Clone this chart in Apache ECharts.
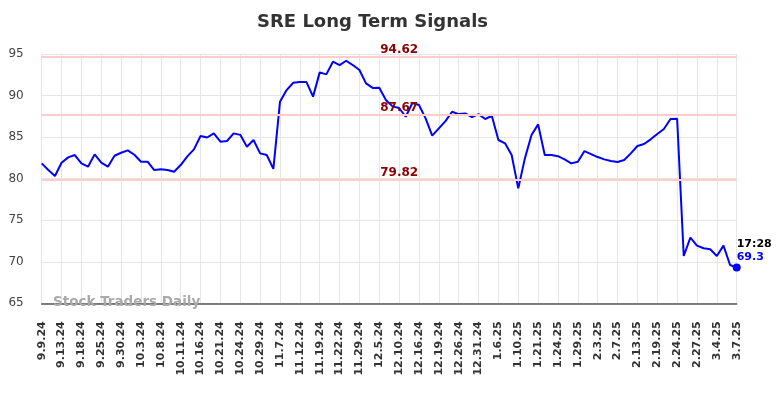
<!DOCTYPE html>
<html>
<head>
<meta charset="utf-8">
<script src="https://cdn.jsdelivr.net/npm/echarts@6/dist/echarts.min.js"></script>
<style>
  html, body { margin: 0; padding: 0; background: #fff; }
  #chart { width: 784px; height: 398px; }
</style>
</head>
<body>
<div id="chart"></div>
<script>
// one tick label every 3 points
var tickLabels = ['9.9.24', '9.13.24', '9.18.24', '9.25.24', '9.30.24', '10.3.24', '10.8.24', '10.11.24',
    '10.16.24', '10.21.24', '10.24.24', '10.29.24', '11.7.24', '11.12.24', '11.19.24', '11.22.24',
    '11.29.24', '12.5.24', '12.10.24', '12.16.24', '12.19.24', '12.26.24', '12.31.24', '1.6.25',
    '1.10.25', '1.21.25', '1.24.25', '1.29.25', '2.3.25', '2.7.25', '2.13.25', '2.19.25',
    '2.24.25', '2.27.25', '3.4.25', '3.7.25'];

var prices = [
    81.84, 81.04, 80.32, 81.92, 82.56, 82.84, 81.84, 81.44, 82.92, 81.92,
    81.44, 82.76, 83.12, 83.40, 82.88, 82.04, 82.04, 81.04, 81.12, 81.04,
    80.84, 81.64, 82.68, 83.52, 85.13, 84.95, 85.45, 84.45, 84.53, 85.45,
    85.27, 83.84, 84.65, 83.04, 82.84, 81.18, 89.26, 90.66, 91.54, 91.62,
    91.62, 89.87, 92.79, 92.55, 94.07, 93.67, 94.19, 93.67, 93.07, 91.46,
    90.92, 90.94, 89.47, 88.70, 88.50, 87.45, 89.10, 88.86, 87.25, 85.17,
    86.05, 86.93, 88.05, 87.77, 87.85, 87.41, 87.77, 87.17, 87.57, 84.65,
    84.25, 82.84, 78.83, 82.44, 85.25, 86.53, 82.84, 82.84, 82.70, 82.32,
    81.84, 82.04, 83.32, 82.96, 82.60, 82.32, 82.12, 82.00, 82.24, 83.04,
    83.93, 84.17, 84.73, 85.37, 85.97, 87.17, 87.21, 70.69, 72.90, 71.94,
    71.62, 71.50, 70.69, 71.94, 69.61, 69.30
];

var signalLevels = [94.62, 87.67, 79.82];
var lastTime = '17:28';

var categories = prices.map(function (v, i) {
    return i % 3 === 0 ? tickLabels[i / 3] : 'p' + i;
});

var seriesData = prices.map(function (v, i) {
    if (i !== prices.length - 1) return v;
    return {
        value: v,
        symbol: 'circle',
        symbolSize: 8,
        label: {
            show: true,
            position: [4, -26],
            align: 'left',
            verticalAlign: 'top',
            formatter: '{t|' + lastTime + '}\n{v|' + v + '}',
            rich: {
                t: { color: '#000', fontWeight: 'bold', fontSize: 11, lineHeight: 13, fontFamily: 'DejaVu Sans' },
                v: { color: '#0000ff', fontWeight: 'bold', fontSize: 11, lineHeight: 13, fontFamily: 'DejaVu Sans' }
            }
        }
    };
});

var myChart = echarts.init(document.getElementById('chart'));
var option = {
    animation: false,
    title: {
        text: 'SRE Long Term Signals',
        left: 252,
        top: 8,
        textStyle: { fontSize: 18, fontWeight: 'bold', color: '#333', fontFamily: 'DejaVu Sans' }
    },
    grid: { left: 41.7, right: 47.3, top: 54, bottom: 94.7 },
    graphic: [{
        type: 'text',
        left: 53,
        top: 295,
        z: 100,
        style: { text: 'Stock Traders Daily', fill: '#aaa', font: 'bold 13.5px "DejaVu Sans"' }
    }],
    xAxis: {
        type: 'category',
        boundaryGap: false,
        data: categories,
        axisLine: { lineStyle: { color: '#555', width: 1.5 } },
        axisTick: { show: false },
        axisLabel: {
            interval: 2,
            rotate: 90,
            margin: 18,
            fontSize: 11,
            fontWeight: 'bold',
            color: '#333',
            fontFamily: 'DejaVu Sans'
        },
        splitLine: { show: true, interval: 2, lineStyle: { color: '#e6e6e6' } }
    },
    yAxis: {
        type: 'value',
        min: 65,
        max: 95,
        interval: 5,
        axisLine: { show: false },
        axisTick: { show: false },
        axisLabel: { fontSize: 12, color: '#444', margin: 18, fontFamily: 'DejaVu Sans' },
        splitLine: { lineStyle: { color: '#e6e6e6' } }
    },
    series: [{
        type: 'line',
        data: seriesData,
        symbol: 'none',
        showSymbol: true,
        itemStyle: { color: '#0000ff' },
        lineStyle: { color: '#0000ff', width: 2 },
        markLine: {
            silent: true,
            symbol: 'none',
            lineStyle: { color: '#ffcccc', width: 2, type: 'solid' },
            label: {
                position: 'insideMiddleTop',
                distance: 1,
                padding: [0, 0, 0, 20],
                color: '#8b0000',
                fontWeight: 'bold',
                fontSize: 12,
                fontFamily: 'DejaVu Sans',
                formatter: function (p) { return p.value.toFixed(2); }
            },
            data: signalLevels.map(function (l) { return { yAxis: l }; })
        }
    }]
};
option && myChart.setOption(option);
</script>
</body>
</html>
